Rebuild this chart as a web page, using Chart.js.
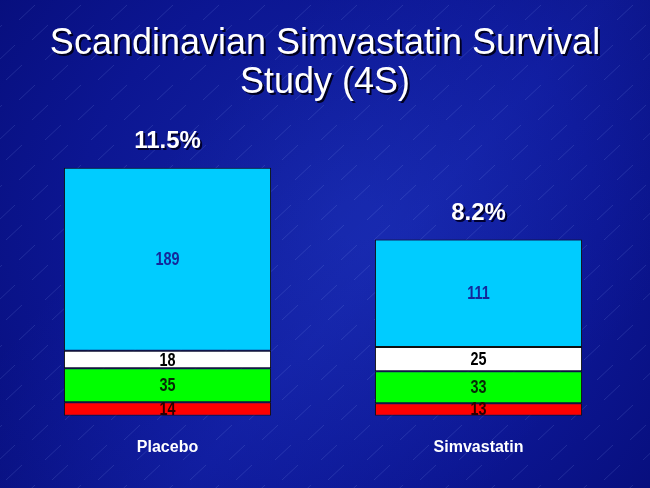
<!DOCTYPE html>
<html>
<head>
<meta charset="utf-8">
<script src="https://cdn.jsdelivr.net/npm/chart.js@4.4.1/dist/chart.umd.min.js"></script>
<style>
html,body{margin:0;padding:0;background:#0a1288;}
#wrap{position:relative;width:650px;height:488px;}
canvas{display:block;}
</style>
</head>
<body>
<div id="wrap"><canvas id="c" width="650" height="488"></canvas></div>
<script>
const titleLines = ["Scandinavian Simvastatin Survival", "Study (4S)"];
const categories = ["Placebo", "Simvastatin"];
const percentLabels = ["11.5%", "8.2%"];
const seriesRed = [14, 13];
const seriesGreen = [35, 33];
const seriesWhite = [18, 25];
const seriesCyan = [189, 111];

const bgPlugin = {
  id: 'bg',
  beforeDraw(chart) {
    const ctx = chart.ctx, w = chart.width, h = chart.height;
    ctx.save();
    const g = ctx.createRadialGradient(w*0.55, h*0.45, 20, w*0.5, h*0.5, 420);
    g.addColorStop(0, '#1424a4');
    g.addColorStop(0.6, '#0c1692');
    g.addColorStop(1, '#070e7c');
    ctx.fillStyle = g;
    ctx.fillRect(0, 0, w, h);
    ctx.globalAlpha = 0.14;
    const lg = ctx.createLinearGradient(300, 0, 650, 300);
    lg.addColorStop(0, 'rgba(50,80,255,0)');
    lg.addColorStop(0.5, 'rgba(50,80,255,1)');
    lg.addColorStop(1, 'rgba(50,80,255,0)');
    ctx.fillStyle = lg;
    ctx.fillRect(0, 0, w, h);
    ctx.globalAlpha = 1;
    ctx.strokeStyle = 'rgba(160,180,255,0.22)';
    ctx.lineWidth = 0.7;
    ctx.beginPath();
    for (let y = -20; y < h + 40; y += 20) {
      const off = ((Math.round(y / 20) % 4 + 4) % 4) * 13;
      for (let x = -40 + off; x < w + 40; x += 46) {
        ctx.moveTo(x, y);
        ctx.lineTo(x + 16, y - 15);
      }
    }
    ctx.stroke();
    ctx.restore();
  }
};

const labelPlugin = {
  id: 'labels',
  afterDatasetsDraw(chart) {
    const ctx = chart.ctx;
    ctx.save();
    ctx.textAlign = 'center';
    ctx.textBaseline = 'middle';
    chart.data.datasets.forEach((ds, di) => {
      const meta = chart.getDatasetMeta(di);
      meta.data.forEach((bar, i) => {
        const v = ds.data[i];
        const yc = (bar.y + bar.base) / 2;
        ctx.save();
        ctx.translate(bar.x, yc + 1);
        ctx.scale(0.8, 1);
        ctx.font = 'bold 18px "Liberation Sans", Arial, sans-serif';
        ctx.fillStyle = ds.labelColor;
        ctx.fillText(String(v), 0, 0);
        ctx.restore();
      });
    });
    const top = chart.getDatasetMeta(chart.data.datasets.length - 1);
    top.data.forEach((bar, i) => {
      ctx.font = 'bold 24px "Liberation Sans", Arial, sans-serif';
      ctx.fillStyle = '#000030';
      ctx.fillText(percentLabels[i], bar.x + 2, bar.y - 24);
      ctx.fillStyle = '#ffffff';
      ctx.fillText(percentLabels[i], bar.x, bar.y - 26);
    });
    ctx.font = '36px "Liberation Sans", Arial, sans-serif';
    ctx.textBaseline = 'alphabetic';
    const ty = [54, 93];
    titleLines.forEach((t, k) => {
      ctx.fillStyle = '#000020';
      ctx.fillText(t, 327, ty[k] + 2);
      ctx.fillStyle = '#ffffff';
      ctx.fillText(t, 325, ty[k]);
    });
    ctx.restore();
  }
};

const common = { borderColor: '#101010', borderWidth: 1, borderSkipped: false, barPercentage: 0.666, categoryPercentage: 1.0 };

new Chart(document.getElementById('c'), {
  type: 'bar',
  data: {
    labels: categories,
    datasets: [
      Object.assign({ label: 'red', data: seriesRed, backgroundColor: '#ff0000', labelColor: '#2a0000' }, common),
      Object.assign({ label: 'green', data: seriesGreen, backgroundColor: '#00ff00', labelColor: '#062a06' }, common),
      Object.assign({ label: 'white', data: seriesWhite, backgroundColor: '#ffffff', labelColor: '#000000' }, common),
      Object.assign({ label: 'cyan', data: seriesCyan, backgroundColor: '#00ccff', labelColor: '#14289a' }, common)
    ]
  },
  options: {
    responsive: false,
    animation: false,
    layout: { padding: { left: 12, right: 16, top: 125, bottom: 17 } },
    plugins: { legend: { display: false }, tooltip: { enabled: false }, title: { display: false } },
    scales: {
      x: {
        stacked: true,
        grid: { display: false },
        border: { display: false },
        ticks: { color: '#ffffff', font: { size: 16, weight: 'bold', family: '"Liberation Sans", Arial, sans-serif' }, padding: 14 }
      },
      y: {
        stacked: true,
        display: false,
        min: 0,
        max: 300
      }
    }
  },
  plugins: [bgPlugin, labelPlugin]
});
</script>
</body>
</html>
